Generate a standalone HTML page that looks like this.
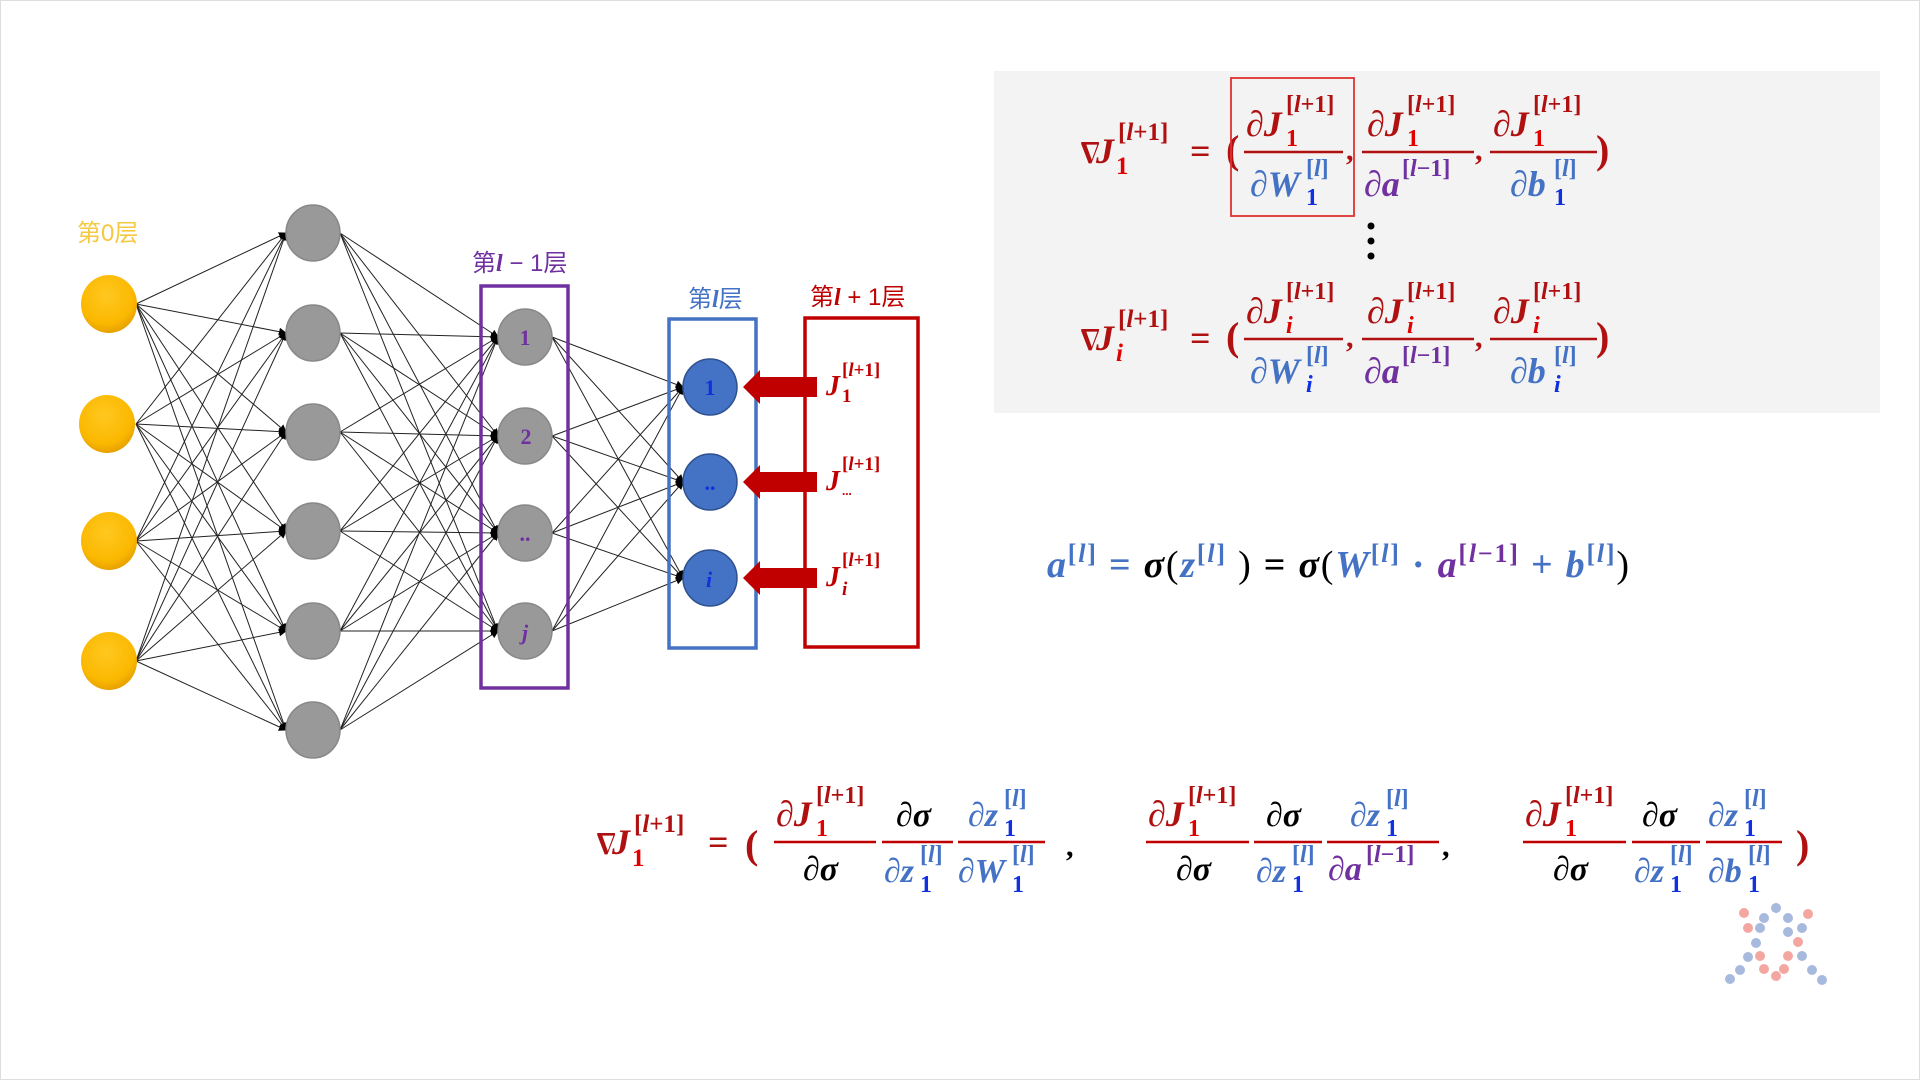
<!DOCTYPE html>
<html><head><meta charset="utf-8">
<style>
html,body{margin:0;padding:0;background:#fff;}
svg{display:block;}
text{font-family:"Liberation Serif","Noto Serif CJK SC",serif;font-weight:bold;font-style:italic;}
.cn{font-family:"Liberation Sans","Noto Sans CJK SC",sans-serif;font-style:normal;font-weight:normal;}
.up{font-style:normal;}
</style></head>
<body>
<svg id="s" width="1920" height="1080" viewBox="0 0 1920 1080" xmlns="http://www.w3.org/2000/svg">
<defs>
<marker id="ah" markerWidth="8" markerHeight="8" refX="7" refY="4" orient="auto" markerUnits="userSpaceOnUse">
<path d="M0,0 L8,4 L0,8 Z" fill="#000"/>
</marker>
<radialGradient id="yg" cx="0.45" cy="0.35" r="0.7"><stop offset="0" stop-color="#ffc820"/><stop offset="0.7" stop-color="#fbb800"/><stop offset="1" stop-color="#e09a00"/></radialGradient>
</defs>
<rect x="0" y="0" width="1920" height="1080" fill="#fff"/>
<rect x="0.5" y="0.5" width="1919" height="1079" fill="none" stroke="#ddd"/>
<rect x="994" y="71" width="886" height="342" fill="#f3f3f3"/>

<g id="lines" stroke="#222" stroke-width="1"></g>

<rect x="481" y="286" width="87" height="402" fill="none" stroke="#7030a0" stroke-width="3.5"/>
<rect x="669" y="319" width="87" height="329" fill="none" stroke="#4472c4" stroke-width="3.5"/>
<rect x="805" y="318" width="113" height="329" fill="none" stroke="#c00000" stroke-width="3.5"/>

<g fill="url(#yg)">
<ellipse cx="109" cy="304" rx="28" ry="29"/><ellipse cx="107" cy="424" rx="28" ry="29"/>
<ellipse cx="109" cy="541" rx="28" ry="29"/><ellipse cx="109" cy="661" rx="28" ry="29"/>
</g>
<g fill="#999" stroke="#888" stroke-width="1.5">
<ellipse cx="313" cy="233" rx="27" ry="28"/><ellipse cx="313" cy="333" rx="27" ry="28"/>
<ellipse cx="313" cy="432" rx="27" ry="28"/><ellipse cx="313" cy="531" rx="27" ry="28"/>
<ellipse cx="313" cy="631" rx="27" ry="28"/><ellipse cx="313" cy="730" rx="27" ry="28"/>
<ellipse cx="525" cy="337" rx="27" ry="28"/><ellipse cx="525" cy="436" rx="27" ry="28"/>
<ellipse cx="525" cy="533" rx="27" ry="28"/><ellipse cx="525" cy="631" rx="27" ry="28"/>
</g>
<g fill="#4472c4" stroke="#2f528f" stroke-width="1.5">
<ellipse cx="710" cy="387" rx="27" ry="28"/><ellipse cx="710" cy="482" rx="27" ry="28"/><ellipse cx="710" cy="578" rx="27" ry="28"/>
</g>
<g fill="#7030a0" font-size="22" text-anchor="middle">
<text x="525" y="345" class="up">1</text><text x="526" y="444" class="up">2</text>
<text x="525" y="541" class="up">..</text><text x="525" y="640">j</text>
</g>
<g fill="#1030e0" font-size="22" text-anchor="middle">
<text x="710" y="395" class="up">1</text><text x="710" y="490" class="up">..</text><text x="709" y="587">i</text>
</g>

<g fill="#c00000">
<path d="M817,377 L760,377 L760,370 L743,387 L760,404 L760,397 L817,397 Z"/>
<path d="M817,472 L760,472 L760,465 L743,482 L760,499 L760,492 L817,492 Z"/>
<path d="M817,568 L760,568 L760,561 L743,578 L760,595 L760,588 L817,588 Z"/>
</g>
<g fill="#c00000">
<text x="826" y="395" font-size="28">J</text><text x="842" y="376" font-size="19" class="up">[<tspan font-style="italic">l</tspan>+1]</text><text x="842" y="402" font-size="19" class="up">1</text>
<text x="826" y="490" font-size="28">J</text><text x="842" y="470" font-size="19" class="up">[<tspan font-style="italic">l</tspan>+1]</text><text x="842" y="495" font-size="13" class="up">...</text>
<text x="826" y="586" font-size="28">J</text><text x="842" y="566" font-size="19" class="up">[<tspan font-style="italic">l</tspan>+1]</text><text x="842" y="595" font-size="19">i</text>
</g>

<text x="77" y="241" font-size="24" fill="#f5c842" class="cn">第0层</text>
<text x="472" y="271" font-size="24" fill="#7030a0" class="cn">第<tspan font-family="Liberation Serif" font-style="italic" font-weight="bold">l</tspan> − 1层</text>
<text x="688" y="307" font-size="24" fill="#4472c4" class="cn">第<tspan font-family="Liberation Serif" font-style="italic" font-weight="bold">l</tspan>层</text>
<text x="810" y="305" font-size="24" fill="#c00000" class="cn">第<tspan font-family="Liberation Serif" font-style="italic" font-weight="bold">l</tspan> + 1层</text>

<g id="f1">
<text x="1076" y="163" font-size="28" fill="#b01010" class="up">∇</text>
<text x="1096" y="163" font-size="36" fill="#b01010">J</text>
<text x="1118" y="140" font-size="25" fill="#b01010" class="up">[<tspan font-style="italic">l</tspan>+1]</text>
<text x="1116" y="174" font-size="25" fill="#e00000" class="up">1</text>
<text x="1190" y="163" font-size="36" fill="#b01010" class="up">=</text>
<text x="1226" y="163" font-size="40" fill="#b01010" class="up">(</text>
<text x="1246" y="136" font-size="36" fill="#b01010">∂J</text>
<text x="1286" y="112" font-size="24" fill="#b01010" class="up">[<tspan font-style="italic">l</tspan>+1]</text>
<text x="1286" y="146" font-size="24" fill="#e00000" class="up">1</text>
<line x1="1244" y1="152" x2="1343" y2="152" stroke="#b01010" stroke-width="2.5"/>
<text x="1250" y="196" font-size="36" fill="#4472c4">∂W</text>
<text x="1306" y="176" font-size="24" fill="#4472c4" class="up">[<tspan font-style="italic">l</tspan>]</text>
<text x="1306" y="205" font-size="24" fill="#1030e0" class="up">1</text>
<text x="1346" y="160" font-size="30" fill="#b01010" class="up">,</text>
<text x="1367" y="136" font-size="36" fill="#b01010">∂J</text>
<text x="1407" y="112" font-size="24" fill="#b01010" class="up">[<tspan font-style="italic">l</tspan>+1]</text>
<text x="1407" y="146" font-size="24" fill="#e00000" class="up">1</text>
<line x1="1362" y1="152" x2="1474" y2="152" stroke="#b01010" stroke-width="2.5"/>
<text x="1364" y="196" font-size="36" fill="#7030a0">∂a</text>
<text x="1402" y="176" font-size="24" fill="#7030a0" class="up">[<tspan font-style="italic">l</tspan>−1]</text>
<text x="1475" y="160" font-size="30" fill="#b01010" class="up">,</text>
<text x="1493" y="136" font-size="36" fill="#b01010">∂J</text>
<text x="1533" y="112" font-size="24" fill="#b01010" class="up">[<tspan font-style="italic">l</tspan>+1]</text>
<text x="1533" y="146" font-size="24" fill="#e00000" class="up">1</text>
<line x1="1490" y1="152" x2="1597" y2="152" stroke="#b01010" stroke-width="2.5"/>
<text x="1510" y="196" font-size="36" fill="#4472c4">∂b</text>
<text x="1554" y="176" font-size="24" fill="#4472c4" class="up">[<tspan font-style="italic">l</tspan>]</text>
<text x="1554" y="205" font-size="24" fill="#1030e0" class="up">1</text>
<text x="1596" y="163" font-size="40" fill="#b01010" class="up">)</text>
</g>
<rect x="1231" y="78" width="123" height="138" fill="none" stroke="#e03030" stroke-width="1.8"/>
<g fill="#000"><circle cx="1371" cy="226" r="3.5"/><circle cx="1371" cy="241" r="3.5"/><circle cx="1371" cy="256" r="3.5"/></g>

<g transform="translate(0,187)">
<text x="1076" y="163" font-size="28" fill="#b01010" class="up">∇</text>
<text x="1096" y="163" font-size="36" fill="#b01010">J</text>
<text x="1118" y="140" font-size="25" fill="#b01010" class="up">[<tspan font-style="italic">l</tspan>+1]</text>
<text x="1116" y="174" font-size="25" fill="#e00000">i</text>
<text x="1190" y="163" font-size="36" fill="#b01010" class="up">=</text>
<text x="1226" y="163" font-size="40" fill="#b01010" class="up">(</text>
<text x="1246" y="136" font-size="36" fill="#b01010">∂J</text>
<text x="1286" y="112" font-size="24" fill="#b01010" class="up">[<tspan font-style="italic">l</tspan>+1]</text>
<text x="1286" y="146" font-size="24" fill="#e00000">i</text>
<line x1="1244" y1="152" x2="1343" y2="152" stroke="#b01010" stroke-width="2.5"/>
<text x="1250" y="196" font-size="36" fill="#4472c4">∂W</text>
<text x="1306" y="176" font-size="24" fill="#4472c4" class="up">[<tspan font-style="italic">l</tspan>]</text>
<text x="1306" y="205" font-size="24" fill="#1030e0">i</text>
<text x="1346" y="160" font-size="30" fill="#b01010" class="up">,</text>
<text x="1367" y="136" font-size="36" fill="#b01010">∂J</text>
<text x="1407" y="112" font-size="24" fill="#b01010" class="up">[<tspan font-style="italic">l</tspan>+1]</text>
<text x="1407" y="146" font-size="24" fill="#e00000">i</text>
<line x1="1362" y1="152" x2="1474" y2="152" stroke="#b01010" stroke-width="2.5"/>
<text x="1364" y="196" font-size="36" fill="#7030a0">∂a</text>
<text x="1402" y="176" font-size="24" fill="#7030a0" class="up">[<tspan font-style="italic">l</tspan>−1]</text>
<text x="1475" y="160" font-size="30" fill="#b01010" class="up">,</text>
<text x="1493" y="136" font-size="36" fill="#b01010">∂J</text>
<text x="1533" y="112" font-size="24" fill="#b01010" class="up">[<tspan font-style="italic">l</tspan>+1]</text>
<text x="1533" y="146" font-size="24" fill="#e00000">i</text>
<line x1="1490" y1="152" x2="1597" y2="152" stroke="#b01010" stroke-width="2.5"/>
<text x="1510" y="196" font-size="36" fill="#4472c4">∂b</text>
<text x="1554" y="176" font-size="24" fill="#4472c4" class="up">[<tspan font-style="italic">l</tspan>]</text>
<text x="1554" y="205" font-size="24" fill="#1030e0">i</text>
<text x="1596" y="163" font-size="40" fill="#b01010" class="up">)</text>
</g>

<text x="1047" y="577" font-size="38" textLength="582" lengthAdjust="spacing">
<tspan fill="#4472c4">a</tspan><tspan fill="#4472c4" font-size="26" dy="-15" class="up">[<tspan font-style="italic">l</tspan>]</tspan><tspan dy="15" fill="#4472c4" class="up"> = </tspan><tspan fill="#000">σ</tspan><tspan fill="#000" class="up" font-weight="normal">(</tspan><tspan fill="#4472c4">z</tspan><tspan fill="#4472c4" font-size="26" dy="-15" class="up">[<tspan font-style="italic">l</tspan>]</tspan><tspan dy="15" fill="#000" class="up" font-weight="normal"> )  </tspan><tspan fill="#000" class="up">= </tspan><tspan fill="#000">σ</tspan><tspan fill="#000" class="up" font-weight="normal">(</tspan><tspan fill="#4472c4">W</tspan><tspan fill="#4472c4" font-size="26" dy="-15" class="up">[<tspan font-style="italic">l</tspan>]</tspan><tspan dy="15" fill="#4472c4" class="up"> · </tspan><tspan fill="#7030a0">a</tspan><tspan fill="#7030a0" font-size="26" dy="-15" class="up">[<tspan font-style="italic">l</tspan>−1]</tspan><tspan dy="15" fill="#4472c4" class="up"> + </tspan><tspan fill="#4472c4">b</tspan><tspan fill="#4472c4" font-size="26" dy="-15" class="up">[<tspan font-style="italic">l</tspan>]</tspan><tspan dy="15" fill="#000" class="up" font-weight="normal">)</tspan>
</text>

<g>
<text x="592" y="854" font-size="28" fill="#b01010" class="up">∇</text>
<text x="612" y="854" font-size="36" fill="#b01010">J</text>
<text x="634" y="832" font-size="25" fill="#b01010" class="up">[<tspan font-style="italic">l</tspan>+1]</text>
<text x="632" y="866" font-size="25" fill="#e00000" class="up">1</text>
<text x="708" y="854" font-size="36" fill="#b01010" class="up">=</text>
<text x="745" y="858" font-size="40" fill="#b01010" class="up" font-weight="normal">(</text>
</g>
<g>
<text x="776" y="826" font-size="36" fill="#b01010">∂J</text>
<text x="816" y="803" font-size="24" fill="#b01010" class="up">[<tspan font-style="italic">l</tspan>+1]</text>
<text x="816" y="836" font-size="24" fill="#e00000" class="up">1</text>
<line x1="774" y1="842" x2="876" y2="842" stroke="#c00000" stroke-width="2.5"/>
<text x="803" y="880" font-size="34" fill="#000">∂σ</text>
<text x="896" y="826" font-size="34" fill="#000">∂σ</text>
<line x1="882" y1="842" x2="953" y2="842" stroke="#c00000" stroke-width="2.5"/>
<text x="884" y="882" font-size="34" fill="#4472c4">∂z</text>
<text x="920" y="862" font-size="24" fill="#4472c4" class="up">[<tspan font-style="italic">l</tspan>]</text>
<text x="920" y="892" font-size="24" fill="#1030e0" class="up">1</text>
<text x="968" y="826" font-size="34" fill="#4472c4">∂z</text>
<text x="1004" y="806" font-size="24" fill="#4472c4" class="up">[<tspan font-style="italic">l</tspan>]</text>
<text x="1004" y="836" font-size="24" fill="#1030e0" class="up">1</text>
<line x1="958" y1="842" x2="1045" y2="842" stroke="#c00000" stroke-width="2.5"/>
<text x="958" y="882" font-size="34" fill="#4472c4">∂W</text>
<text x="1012" y="862" font-size="24" fill="#4472c4" class="up">[<tspan font-style="italic">l</tspan>]</text>
<text x="1012" y="892" font-size="24" fill="#1030e0" class="up">1</text>
<text x="1066" y="856" font-size="30" fill="#000" class="up">,</text>
</g>
<g>
<text x="1148" y="826" font-size="36" fill="#b01010">∂J</text>
<text x="1188" y="803" font-size="24" fill="#b01010" class="up">[<tspan font-style="italic">l</tspan>+1]</text>
<text x="1188" y="836" font-size="24" fill="#e00000" class="up">1</text>
<line x1="1146" y1="842" x2="1249" y2="842" stroke="#c00000" stroke-width="2.5"/>
<text x="1176" y="880" font-size="34" fill="#000">∂σ</text>
<text x="1266" y="826" font-size="34" fill="#000">∂σ</text>
<line x1="1254" y1="842" x2="1322" y2="842" stroke="#c00000" stroke-width="2.5"/>
<text x="1256" y="882" font-size="34" fill="#4472c4">∂z</text>
<text x="1292" y="862" font-size="24" fill="#4472c4" class="up">[<tspan font-style="italic">l</tspan>]</text>
<text x="1292" y="892" font-size="24" fill="#1030e0" class="up">1</text>
<text x="1350" y="826" font-size="34" fill="#4472c4">∂z</text>
<text x="1386" y="806" font-size="24" fill="#4472c4" class="up">[<tspan font-style="italic">l</tspan>]</text>
<text x="1386" y="836" font-size="24" fill="#1030e0" class="up">1</text>
<line x1="1327" y1="842" x2="1439" y2="842" stroke="#c00000" stroke-width="2.5"/>
<text x="1328" y="880" font-size="34" fill="#7030a0">∂a</text>
<text x="1366" y="862" font-size="24" fill="#7030a0" class="up">[<tspan font-style="italic">l</tspan>−1]</text>
<text x="1442" y="856" font-size="30" fill="#000" class="up">,</text>
</g>
<g>
<text x="1525" y="826" font-size="36" fill="#b01010">∂J</text>
<text x="1565" y="803" font-size="24" fill="#b01010" class="up">[<tspan font-style="italic">l</tspan>+1]</text>
<text x="1565" y="836" font-size="24" fill="#e00000" class="up">1</text>
<line x1="1523" y1="842" x2="1626" y2="842" stroke="#c00000" stroke-width="2.5"/>
<text x="1553" y="880" font-size="34" fill="#000">∂σ</text>
<text x="1642" y="826" font-size="34" fill="#000">∂σ</text>
<line x1="1632" y1="842" x2="1700" y2="842" stroke="#c00000" stroke-width="2.5"/>
<text x="1634" y="882" font-size="34" fill="#4472c4">∂z</text>
<text x="1670" y="862" font-size="24" fill="#4472c4" class="up">[<tspan font-style="italic">l</tspan>]</text>
<text x="1670" y="892" font-size="24" fill="#1030e0" class="up">1</text>
<text x="1708" y="826" font-size="34" fill="#4472c4">∂z</text>
<text x="1744" y="806" font-size="24" fill="#4472c4" class="up">[<tspan font-style="italic">l</tspan>]</text>
<text x="1744" y="836" font-size="24" fill="#1030e0" class="up">1</text>
<line x1="1706" y1="842" x2="1782" y2="842" stroke="#c00000" stroke-width="2.5"/>
<text x="1708" y="882" font-size="34" fill="#4472c4">∂b</text>
<text x="1748" y="862" font-size="24" fill="#4472c4" class="up">[<tspan font-style="italic">l</tspan>]</text>
<text x="1748" y="892" font-size="24" fill="#1030e0" class="up">1</text>
<text x="1796" y="858" font-size="40" fill="#b01010" class="up" font-weight="normal">)</text>
</g>

<g>
<circle cx="1744" cy="913" r="5" fill="#f4a7a0"/><circle cx="1764" cy="918" r="5" fill="#a8b9de"/><circle cx="1776" cy="908" r="5" fill="#a8b9de"/><circle cx="1788" cy="918" r="5" fill="#a8b9de"/><circle cx="1808" cy="914" r="5" fill="#f4a7a0"/>
<circle cx="1748" cy="928" r="5" fill="#f4a7a0"/><circle cx="1760" cy="928" r="5" fill="#a8b9de"/><circle cx="1788" cy="932" r="5" fill="#a8b9de"/><circle cx="1802" cy="928" r="5" fill="#a8b9de"/>
<circle cx="1756" cy="943" r="5" fill="#a8b9de"/><circle cx="1798" cy="942" r="5" fill="#f4a7a0"/>
<circle cx="1748" cy="957" r="5" fill="#a8b9de"/><circle cx="1760" cy="956" r="5" fill="#f4a7a0"/><circle cx="1788" cy="956" r="5" fill="#f4a7a0"/><circle cx="1802" cy="956" r="5" fill="#a8b9de"/>
<circle cx="1740" cy="970" r="5" fill="#a8b9de"/><circle cx="1764" cy="969" r="5" fill="#f4a7a0"/><circle cx="1784" cy="969" r="5" fill="#f4a7a0"/><circle cx="1812" cy="970" r="5" fill="#a8b9de"/>
<circle cx="1730" cy="979" r="5" fill="#a8b9de"/><circle cx="1776" cy="976" r="5" fill="#f4a7a0"/><circle cx="1822" cy="980" r="5" fill="#a8b9de"/>
</g>
</svg>
<script>
(function(){
var L=[[109,[304,424,541,661]],[313,[233,333,432,531,631,730]],[525,[337,436,533,631]],[710,[387,482,578]]];
var g=document.getElementById('lines'),ns='http://www.w3.org/2000/svg',r=27;
for(var k=0;k<3;k++){var a=L[k],b=L[k+1];
for(var i=0;i<a[1].length;i++)for(var j=0;j<b[1].length;j++){
var l=document.createElementNS(ns,'line');
l.setAttribute('x1',a[0]+r);l.setAttribute('y1',a[1][i]);l.setAttribute('x2',b[0]-r);l.setAttribute('y2',b[1][j]);
l.setAttribute('marker-end','url(#ah)');g.appendChild(l);}}
})();
</script>
</body></html>
